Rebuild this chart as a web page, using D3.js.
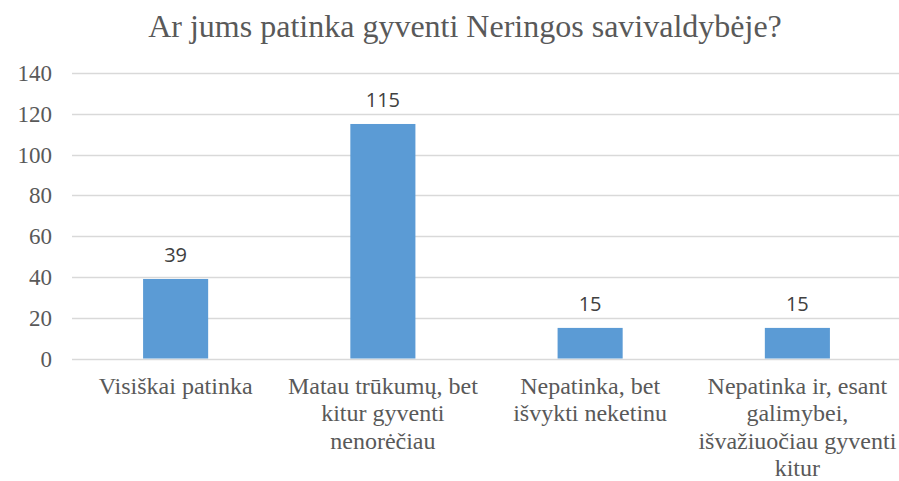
<!DOCTYPE html>
<html>
<head>
<meta charset="utf-8">
<script src="https://cdn.jsdelivr.net/npm/d3@7"></script>
<style>
  body { margin: 0; background: #fff; }
  svg { display: block; }
</style>
</head>
<body>
<div id="chart"></div>
<script>
// chart data
const title = "Ar jums patinka gyventi Neringos savivaldybėje?";
const categories = [
    "Visiškai patinka",
    "Matau trūkumų, bet\nkitur gyventi\nnenorėčiau",
    "Nepatinka, bet\nišvykti neketinu",
    "Nepatinka ir, esant\ngalimybei,\nišvažiuočiau gyventi\nkitur"
];
const values = [39, 115, 15, 15];
const yTicks = [0, 20, 40, 60, 80, 100, 120, 140];

const width = 899;
const height = 481;
const margin = { top: 73, right: -2, bottom: 122, left: 72 };
const serif = "'Liberation Serif', 'Times New Roman', serif";

const svg = d3.select("#chart")
    .append("svg")
    .attr("width", width)
    .attr("height", height);

const x = d3.scaleBand()
    .domain(categories)
    .range([margin.left, width - margin.right])
    .paddingInner(0.686)
    .paddingOuter(0.343);

const y = d3.scaleLinear()
    .domain([0, 140])
    .range([height - margin.bottom - 0.5, margin.top]);

// gridlines
svg.append("g")
    .selectAll("line")
    .data(yTicks)
    .enter().append("line")
    .attr("x1", margin.left)
    .attr("x2", width)
    .attr("y1", d => Math.round(y(d)) + 0.5)
    .attr("y2", d => Math.round(y(d)) + 0.5)
    .attr("stroke", "#d9d9d9")
    .attr("stroke-width", 1.3);

// y axis labels
const yAxis = d3.axisLeft(y).tickValues(yTicks).tickSize(0).tickPadding(0);
svg.append("g")
    .attr("transform", `translate(${margin.left - 20},0)`)
    .attr("font-family", serif)
    .call(yAxis)
    .call(g => g.select(".domain").remove())
    .selectAll("text")
    .style("font-family", serif)
    .style("font-size", "23px")
    .attr("fill", "#595959")
    .attr("dy", "0.33em");

// bars
svg.append("g")
    .selectAll("rect")
    .data(values)
    .enter().append("rect")
    .attr("x", (d, i) => x(categories[i]))
    .attr("y", d => y(d))
    .attr("width", x.bandwidth())
    .attr("height", d => y(0) - y(d))
    .attr("fill", "#5b9bd5");

// data labels
svg.append("g")
    .selectAll("text")
    .data(values)
    .enter().append("text")
    .attr("x", (d, i) => x(categories[i]) + x.bandwidth() / 2)
    .attr("y", d => y(d) - 17)
    .attr("text-anchor", "middle")
    .style("font-family", "'Open Sans', 'Liberation Sans', sans-serif")
    .style("font-size", "20px")
    .attr("fill", "#404040")
    .text(d => d);

// category labels, one tspan per line
const catLabels = svg.append("g")
    .selectAll("text")
    .data(categories)
    .enter().append("text")
    .attr("text-anchor", "middle")
    .style("font-family", serif)
    .style("font-size", "24px")
    .attr("fill", "#595959");

catLabels.each(function(d) {
    const cx = x(d) + x.bandwidth() / 2;
    d.split("\n").forEach((line, i) => {
        d3.select(this).append("tspan")
            .attr("x", cx)
            .attr("y", 394 + i * 27.3)
            .text(line);
    });
});

// title
svg.append("text")
    .attr("x", 465)
    .attr("y", 37)
    .attr("text-anchor", "middle")
    .style("font-family", serif)
    .style("font-size", "32px")
    .attr("fill", "#595959")
    .text(title);
</script>
</body>
</html>
